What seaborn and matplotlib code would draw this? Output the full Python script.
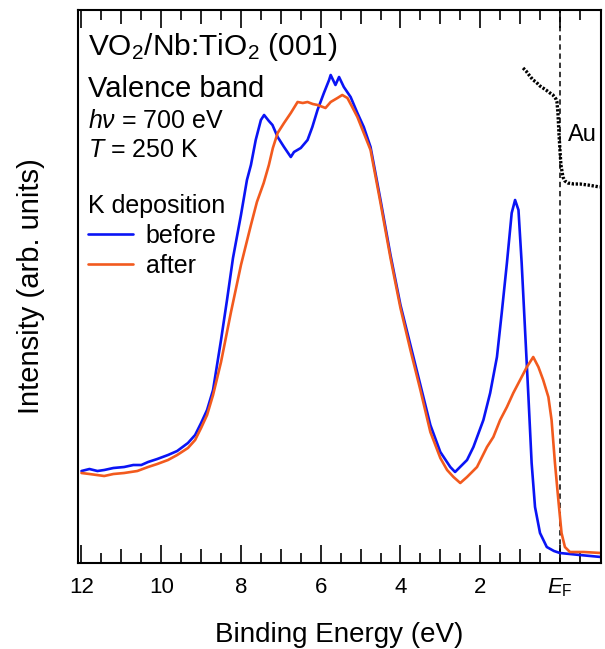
import numpy as np
import pandas as pd
import matplotlib
matplotlib.use("Agg")
import matplotlib.pyplot as plt
import seaborn as sns

# ---------------- data ----------------
E_before = [12.0, 11.8, 11.6, 11.43, 11.2, 10.93, 10.7, 10.5, 10.33, 10.1, 9.83, 9.6,
            9.33, 9.15, 9.0, 8.85, 8.7, 8.5, 8.35, 8.2, 8.0, 7.85, 7.75, 7.63, 7.5,
            7.42, 7.3, 7.21, 7.08, 6.92, 6.75, 6.67, 6.5, 6.33, 6.21, 6.08, 5.92, 5.79,
            5.75, 5.63, 5.54, 5.42, 5.25, 5.08, 4.92, 4.75, 4.5, 4.25, 4.0, 3.75, 3.5,
            3.25, 3.0, 2.75, 2.63, 2.33, 2.17, 1.92, 1.75, 1.58, 1.46, 1.33, 1.21,
            1.125, 1.04, 0.96, 0.875, 0.79, 0.71, 0.625, 0.5, 0.33, 0.15, 0.0, -0.5, -1.03]
I_before = [92, 94, 92, 93, 95, 96, 98, 98, 101, 104, 108, 112,
            120, 128, 140, 153, 173, 223, 263, 305, 348, 383, 398, 423, 443,
            448, 442, 438, 426, 416, 406, 411, 415, 423, 436, 453, 470, 483,
            488, 478, 486, 476, 466, 450, 436, 416, 363, 308, 258, 218, 178,
            138, 111, 96, 91, 103, 116, 143, 170, 206, 250, 300, 350,
            363, 353, 300, 233, 166, 100, 56, 30, 16, 12, 10, 8, 6]

E_after = [12.0, 11.8, 11.43, 11.2, 10.93, 10.6, 10.33, 10.1, 9.83, 9.6, 9.33, 9.15,
           9.0, 8.85, 8.7, 8.5, 8.25, 8.0, 7.75, 7.6, 7.43, 7.3, 7.2, 7.08, 6.92,
           6.75, 6.58, 6.45, 6.33, 6.2, 6.08, 5.88, 5.75, 5.58, 5.46, 5.33, 5.21,
           5.08, 4.92, 4.75, 4.5, 4.25, 4.0, 3.75, 3.5, 3.25, 3.0, 2.83, 2.67, 2.5,
           2.33, 2.08, 1.83, 1.67, 1.5, 1.33, 1.17, 1.0, 0.83, 0.67, 0.54, 0.42,
           0.29, 0.21, 0.125, 0.04, -0.04, -0.125, -0.25, -0.6, -1.03]
I_after = [90, 89, 87, 89, 90, 92, 96, 99, 103, 108, 115, 123,
           135, 148, 168, 201, 251, 298, 338, 361, 380, 398, 415, 430, 440,
           450, 461, 460, 461, 459, 458, 455, 461, 465, 468, 465, 456,
           446, 430, 413, 360, 305, 255, 213, 173, 131, 105, 93, 86, 80,
           86, 96, 116, 126, 143, 156, 170, 183, 196, 206, 196, 183,
           166, 143, 100, 63, 30, 16, 11, 11, 10]

E_au = [0.925, 0.85, 0.775, 0.675, 0.6, 0.5, 0.425, 0.35, 0.25, 0.175, 0.1, 0.075,
        0.05, 0.025, 0.0, -0.025, -0.075, -0.125, -0.2, -0.35, -0.5, -0.7, -0.85, -1.0]
I_au = [495, 492, 488, 483, 481, 477, 475, 473, 470, 468, 464, 461,
        450, 430, 413, 398, 386, 382, 380, 379, 379, 378, 377, 376]

series_names = ["before", "after"]
series_colors = ["#0a14f5", "#f25a1e"]
tick_values = [12, 10, 8, 6, 4, 2, 0]
tick_labels = ["12", "10", "8", "6", "4", "2", r"$\mathit{E}_\mathrm{F}$"]

# ---------------- styling ----------------
sns.set_style("white")
plt.rcParams["font.family"] = ["Liberation Sans", "DejaVu Sans"]
plt.rcParams["mathtext.fontset"] = "custom"
plt.rcParams["mathtext.rm"] = "Liberation Sans"
plt.rcParams["mathtext.it"] = "Liberation Sans:italic"
plt.rcParams["mathtext.bf"] = "Liberation Sans:bold"
plt.rcParams["mathtext.default"] = "regular"
plt.rcParams["text.color"] = "black"
plt.rcParams["axes.labelcolor"] = "black"
plt.rcParams["xtick.color"] = "black"
plt.rcParams["ytick.color"] = "black"

df = pd.concat([
    pd.DataFrame({"E": E_before, "I": I_before, "K deposition": series_names[0]}),
    pd.DataFrame({"E": E_after, "I": I_after, "K deposition": series_names[1]}),
], ignore_index=True)
au = pd.DataFrame({"E": E_au, "I": I_au})

fig = plt.figure(figsize=(6.05, 6.49), dpi=100)
ax = fig.add_axes([0.1294, 0.1325, 0.9934 - 0.1294, 0.9846 - 0.1325])

sns.lineplot(data=df, x="E", y="I", hue="K deposition",
             palette=dict(zip(series_names, series_colors)),
             sort=False, estimator=None, linewidth=1.9, ax=ax, legend=False)
sns.lineplot(data=au, x="E", y="I", color="black", sort=False, estimator=None,
             linewidth=2.4, linestyle=(0, (0.7, 0.5)), ax=ax, legend=False)

ax.axvline(0, color="black", linestyle=(0, (3.5, 2.5)), linewidth=1.1, zorder=1)

ax.set_xlim(12.08, -1.03)
ax.set_ylim(0, 553)

# ticks
major = np.arange(12, -1, -1)
ax.set_xticks(major)
labels = {v: l for v, l in zip(tick_values, tick_labels)}
ax.set_xticklabels([labels.get(int(v), "") for v in major])
ax.set_xticks(np.arange(11.5, -1.01, -1.0), minor=True)
ax.set_yticks([])
ax.tick_params(axis="x", which="both", direction="in", top=True, bottom=True,
               width=1.2, labelsize=16, pad=10, colors="black")
ax.tick_params(axis="x", which="major", length=13)
ax.tick_params(axis="x", which="minor", length=7)
for v, t in zip(major, ax.xaxis.get_major_ticks()):
    if int(v) % 2 != 0:
        t.tick1line.set_markersize(10)
        t.tick2line.set_markersize(10)

for s in ax.spines.values():
    s.set_linewidth(1.5)
    s.set_color("black")

ax.set_xlabel("Binding Energy (eV)", fontsize=20, labelpad=16)
ax.set_ylabel("Intensity (arb. units)", fontsize=21, labelpad=24)

# annotations
ax.text(0.0186, 0.9186, r"VO$_2$/Nb:TiO$_2$ (001)", transform=ax.transAxes,
        fontsize=21.5, va="baseline", ha="left")
ax.text(0.0186, 0.8427, "Valence band", transform=ax.transAxes,
        fontsize=21, va="baseline", ha="left")
ax.text(0.0186, 0.7866, r"$\mathit{h\nu}$ = 700 eV", transform=ax.transAxes,
        fontsize=18, va="baseline", ha="left")
ax.text(0.0186, 0.7342, r"$\mathit{T}$ = 250 K", transform=ax.transAxes,
        fontsize=18, va="baseline", ha="left")
ax.text(0.937, 0.763, "Au", transform=ax.transAxes,
        fontsize=17, va="baseline", ha="left")

handles = [plt.Line2D([], [], color=c, linewidth=1.9) for c in series_colors]
leg = ax.legend(handles, series_names, title="K deposition", loc="upper left",
                bbox_to_anchor=(0.0186, 0.6665), frameon=False, fontsize=18,
                title_fontsize=18, handlelength=1.8, handletextpad=0.5,
                labelspacing=0.23, borderpad=0, borderaxespad=0, alignment="left")

fig.savefig("out.png", dpi=100)
